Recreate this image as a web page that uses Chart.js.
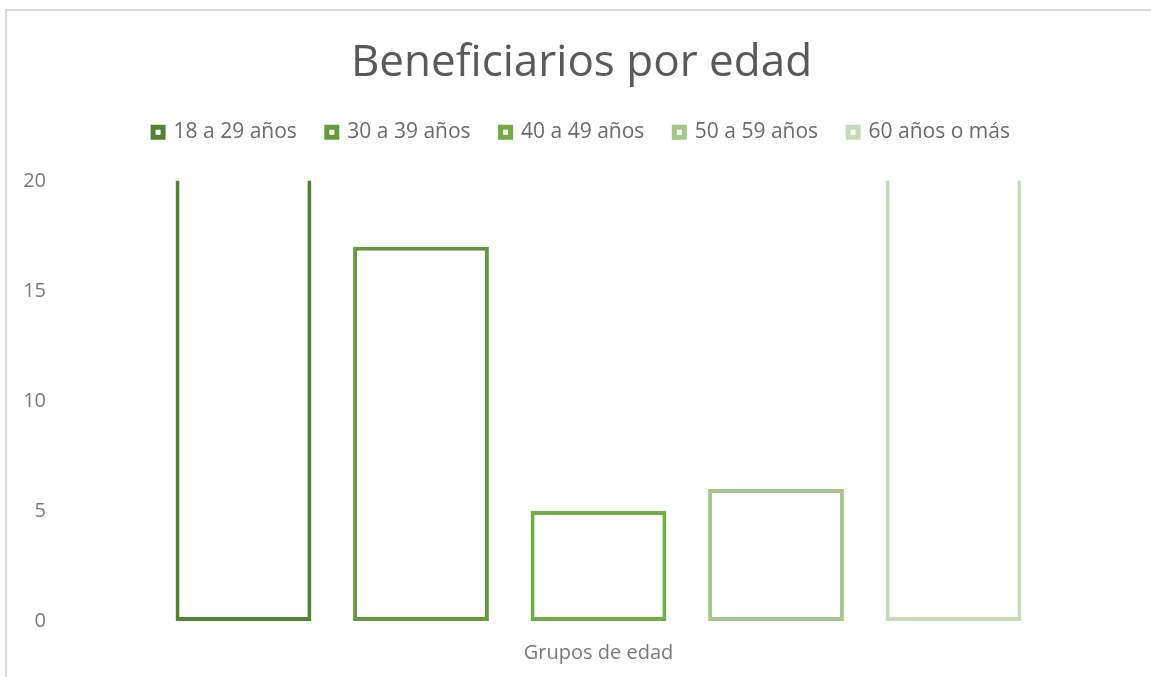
<!DOCTYPE html>
<html>
<head>
<meta charset="utf-8">
<script src="https://cdn.jsdelivr.net/npm/chart.js@4"></script>
<style>
    html, body { margin: 0; padding: 0; background: #fff; }
    #wrap { position: relative; width: 1151px; height: 677px; overflow: hidden; }
    #frame {
        position: absolute; left: 5px; top: 9px; width: 1160px; height: 700px;
        border-top: 2px solid #d9d9d9; border-left: 2px solid #d9d9d9;
    }
    #ageChart { position: absolute; left: 0; top: 0; }
</style>
</head>
<body>
<div id="wrap">
    <div id="frame"></div>
    <canvas id="ageChart" width="1151" height="677"></canvas>
</div>
<script>
// data
const categories = ["Grupos de edad"];
const seriesNames = ["18 a 29 años", "30 a 39 años", "40 a 49 años", "50 a 59 años", "60 años o más"];
// first and last bars run past the top of the axis (clipped at 20)
const seriesValues = [22, 17, 5, 6, 22];
const seriesColors = ["#548235", "#649a3f", "#70ad47", "#a3c68a", "#c3dab8"];
const yTicks = [0, 5, 10, 15, 20];

document.addEventListener("DOMContentLoaded", function () {
    const ctx = document.getElementById("ageChart");

    const datasets = seriesNames.map(function (name, i) {
        return {
            label: name,
            data: [seriesValues[i]],
            backgroundColor: "#ffffff",
            borderColor: seriesColors[i],
            borderWidth: 4,
            borderSkipped: false,
            clip: 0,
            categoryPercentage: 0.818,
            barPercentage: 0.765
        };
    });

    // push the plot area down below the legend
    const legendGap = {
        id: "legendGap",
        beforeInit(chart) {
            const origFit = chart.legend.fit;
            chart.legend.fit = function () {
                origFit.bind(chart.legend)();
                this.height += 28;
            };
        }
    };

    new Chart(ctx, {
        type: "bar",
        data: { labels: categories, datasets: datasets },
        plugins: [legendGap],
        options: {
            responsive: false,
            animation: false,
            layout: { padding: { left: 22, right: 10, top: 0, bottom: 0 } },
            plugins: {
                title: {
                    display: true,
                    text: "Beneficiarios por edad",
                    color: "#595959",
                    font: { family: "Open Sans", size: 44, weight: "normal" },
                    padding: { top: 37, bottom: 2 }
                },
                legend: {
                    display: true,
                    position: "top",
                    labels: {
                        color: "#6b6b6b",
                        font: { family: "Open Sans", size: 21 },
                        boxWidth: 10,
                        boxHeight: 10,
                        padding: 30,
                        generateLabels(chart) {
                            const items = Chart.defaults.plugins.legend.labels.generateLabels(chart);
                            items.forEach(function (it) { it.lineWidth = 5; });
                            return items;
                        }
                    }
                },
                tooltip: { enabled: false }
            },
            scales: {
                x: {
                    grid: { display: false, drawTicks: false },
                    border: { display: false },
                    afterFit(scale) { scale.height = 56; },
                    ticks: {
                        color: "#7a7a7a",
                        font: { family: "Open Sans", size: 20 },
                        padding: 20
                    }
                },
                y: {
                    min: 0,
                    max: yTicks[yTicks.length - 1],
                    grid: { display: false, drawTicks: false },
                    border: { display: false },
                    afterBuildTicks(scale) {
                        scale.ticks = yTicks.map(function (v) { return { value: v }; });
                    },
                    afterFit(scale) { scale.width = 34; },
                    ticks: {
                        color: "#7a7a7a",
                        font: { family: "Open Sans", size: 20 },
                        padding: 10
                    }
                }
            }
        }
    });
});
</script>
</body>
</html>
